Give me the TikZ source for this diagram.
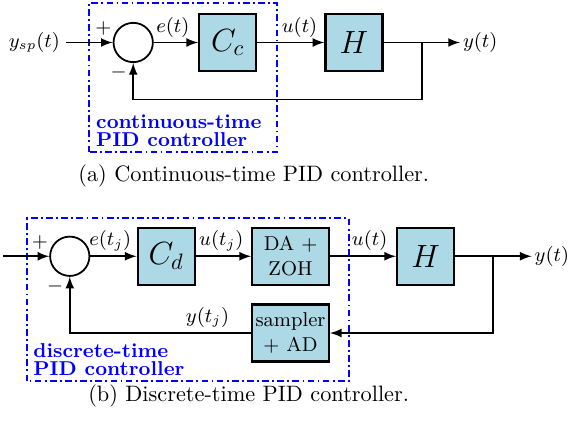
\documentclass[tikz,border=0pt]{standalone}
\usetikzlibrary{positioning}
\definecolor{blockfill}{RGB}{173,216,230}
\tikzset{
  block/.style={draw,line width=1pt,fill=blockfill,minimum size=0.9cm,inner sep=0pt,align=center},
  sumnode/.style={draw,thick,circle,fill=white,minimum size=0.62cm,inner sep=0pt},
  sig/.style={thick,-latex},
  ctrlbox/.style={blue,thick,dash pattern=on 3pt off 1.5pt on 0.8pt off 1.5pt},
  ctrllabel/.style={blue,align=left,inner sep=0pt,font=\fontsize{9}{8.2}\selectfont\bfseries},
}
\begin{document}
\begin{tikzpicture}[font=\small]
\useasboundingbox (0,0) rectangle (8.97,6.67);
% (a) continuous-time
\draw[ctrlbox] (1.40,4.27) rectangle (4.37,6.62);
\coordinate (in1) at (1.04,6.0);
\node[sumnode] (sum1) at (2.10,6.0) {};
\node[block] (cc) at (3.59,6.0) {\Large $C_c$};
\node[block] (h1) at (5.58,6.0) {\Large $H$};
\coordinate (br1) at (6.65,6.0);
\coordinate (out1) at (7.25,6.0);
\coordinate (fb1) at (2.10,5.10);
\node[anchor=east,inner sep=2.5pt] (ysp) at (in1) {$y_{sp}(t)$};
\node (p1) at ([xshift=-0.47cm,yshift=0.22cm]sum1.center) {$+$};
\node (m1) at ([xshift=-0.23cm,yshift=-0.48cm]sum1.center) {$-$};
\draw[sig] (in1) -- (sum1);
\draw[sig] (sum1) -- node[above,pos=0.43,inner sep=2pt] {$e(t)$} (cc);
\draw[sig] (cc) -- node[above,pos=0.63,inner sep=2pt] {$u(t)$} (h1);
\draw[sig] (h1) -- (out1) node[right,inner sep=1pt] (y1) {$y(t)$};
\draw[sig] (br1) |- (fb1) -- (sum1);
\node[ctrllabel,anchor=north west] (lbl1) at (1.51,4.87) {continuous-time\\PID controller};
\node[font=\normalsize,anchor=base] (capa) at (4.0,3.81) {(a) Continuous-time PID controller.};
% (b) discrete-time
\draw[ctrlbox] (0.43,0.66) rectangle (5.50,3.23);
\coordinate (in2) at (0.05,2.63);
\node[sumnode] (sum2) at (1.10,2.63) {};
\node[block] (cd) at (2.62,2.63) {\Large $C_d$};
\node[block,minimum width=1.21cm] (dazoh) at (4.58,2.63) {DA +\\ZOH};
\node[block] (h2) at (6.71,2.63) {\Large $H$};
\node[block,minimum width=1.21cm] (samp) at (4.58,1.42) {sampler\\+ AD};
\coordinate (br2) at (7.77,2.63);
\coordinate (out2) at (8.38,2.63);
\coordinate (fb2) at (1.10,1.42);
\node (p2) at ([xshift=-0.47cm,yshift=0.22cm]sum2.center) {$+$};
\node (m2) at ([xshift=-0.23cm,yshift=-0.48cm]sum2.center) {$-$};
\draw[sig] (in2) -- (sum2);
\draw[sig] (sum2) -- node[above,pos=0.43,inner sep=2pt] {$e(t_j)$} (cd);
\draw[sig] (cd) -- node[above,pos=0.46,inner sep=2pt] {$u(t_j)$} (dazoh);
\draw[sig] (dazoh) -- node[above,pos=0.6,inner sep=2pt] {$u(t)$} (h2);
\draw[sig] (h2) -- (out2) node[right,inner sep=1pt] (y2) {$y(t)$};
\draw[sig] (br2) |- (samp);
\draw[sig] (samp) -- node[above,pos=0.24,inner sep=2pt] {$y(t_j)$} (fb2) -- (sum2);
\node[ctrllabel,anchor=north west] (lbl2) at (0.52,1.26) {discrete-time\\PID controller};
\node[font=\normalsize,anchor=base] (capb) at (3.92,0.34) {(b) Discrete-time PID controller.};
\end{tikzpicture}
\end{document}
